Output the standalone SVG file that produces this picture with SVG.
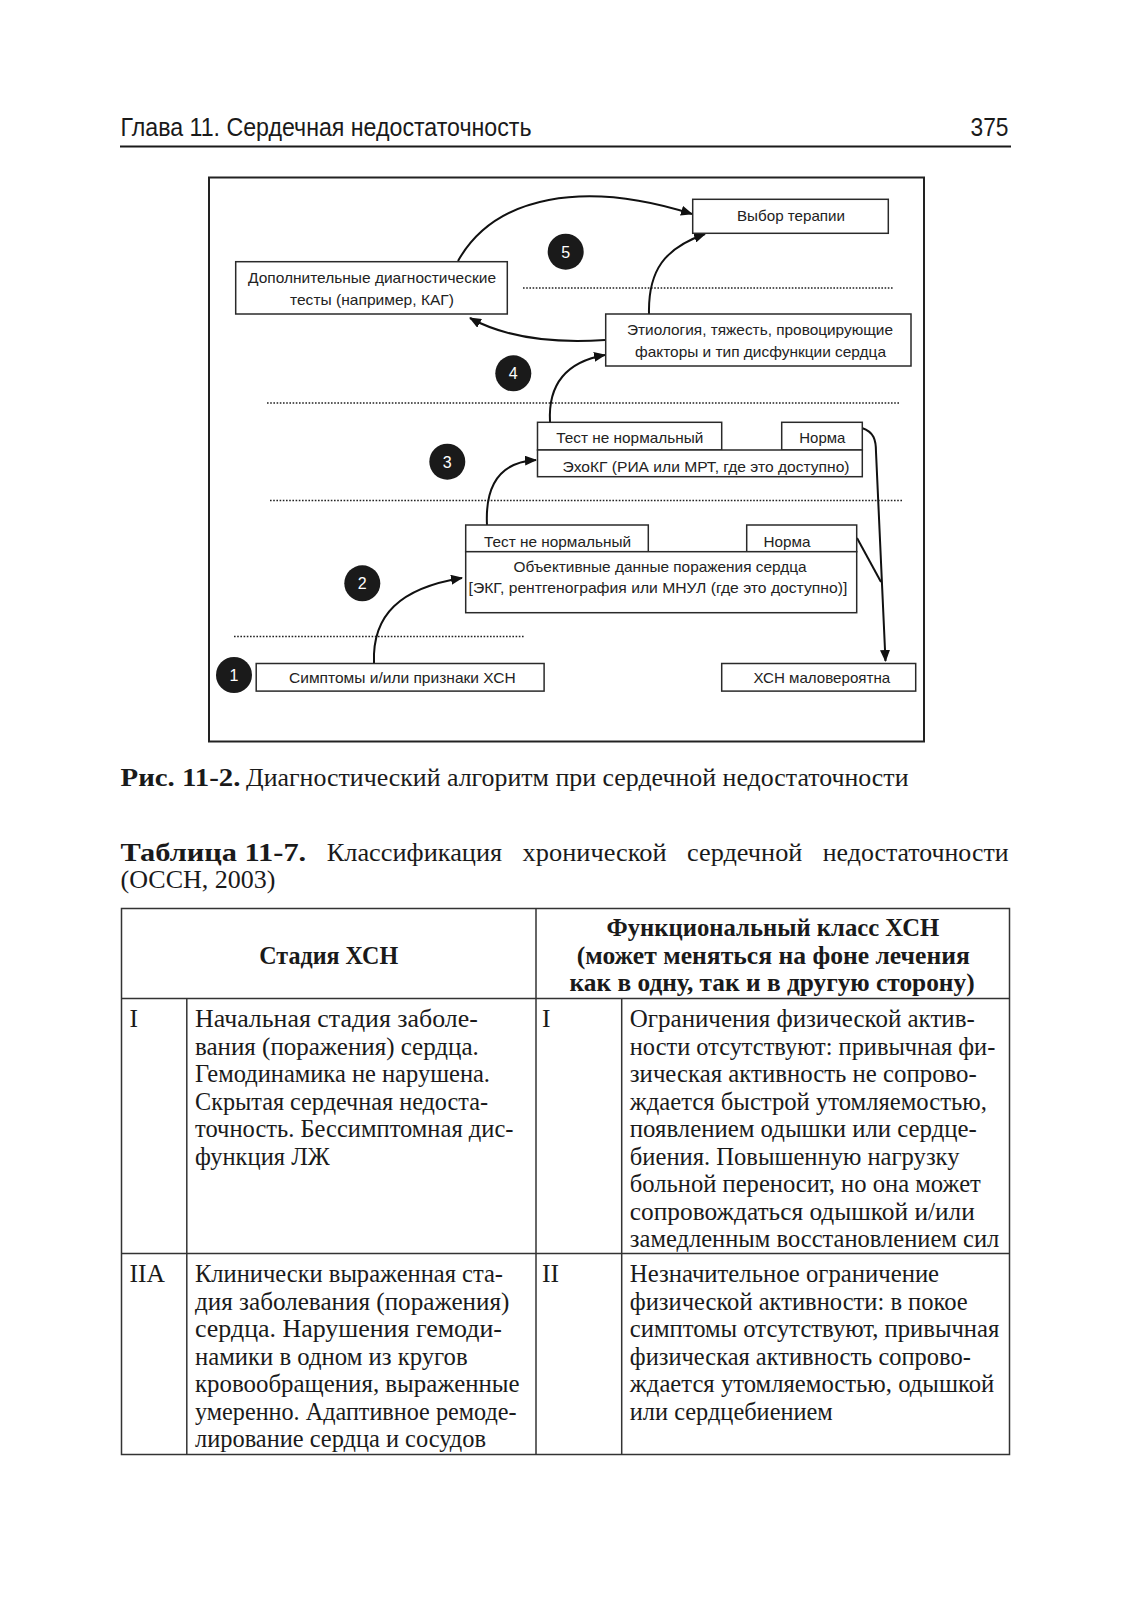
<svg xmlns="http://www.w3.org/2000/svg" width="1129" height="1600" viewBox="0 0 1129 1600">
<defs>
<style>
.hd{font-family:"Liberation Sans",Arial,sans-serif;font-size:26px;fill:#1a1a1a}
.box{fill:#fff;stroke:#2a2a2a;stroke-width:1.5}
.t{font-family:"Liberation Sans",Arial,sans-serif;font-size:14.5px;fill:#222}
.dot{stroke:#222;stroke-width:1.6;stroke-dasharray:1.6 1.6;fill:none}
.con{fill:none;stroke:#111;stroke-width:2}
.num{fill:#1a1a1a}
.nt{font-family:"Liberation Sans",Arial,sans-serif;font-size:16px;fill:#fff;text-anchor:middle}
.s{font-family:"Liberation Serif","Times New Roman",serif;font-size:25.5px;fill:#1a1a1a}
.b{font-weight:bold}
.tl{stroke:#333;stroke-width:1.5;fill:none}
</style>
<marker id="ah" markerUnits="userSpaceOnUse" markerWidth="12" markerHeight="10" refX="11" refY="5" orient="auto">
<path d="M0,0 L12,5 L0,10 z" fill="#111"/>
</marker>
</defs>
<rect x="0" y="0" width="1129" height="1600" fill="#fff"/>

<g id="page-header">
<text class="hd" x="120.5" y="136" textLength="411" lengthAdjust="spacingAndGlyphs">Глава 11. Сердечная недостаточность</text>
<text class="hd" x="1008.5" y="136" text-anchor="end" textLength="38" lengthAdjust="spacingAndGlyphs">375</text>
<line x1="120" y1="146.5" x2="1011" y2="146.5" stroke="#1a1a1a" stroke-width="2"/>
</g>

<g id="frame">
<rect x="209" y="177.5" width="715" height="564" fill="none" stroke="#222" stroke-width="2"/>
</g>

<g id="separators">
<line class="dot" x1="523" y1="288" x2="893" y2="288"/>
<line class="dot" x1="267" y1="403" x2="899" y2="403"/>
<line class="dot" x1="270" y1="500.5" x2="903" y2="500.5"/>
<line class="dot" x1="234" y1="636.5" x2="525" y2="636.5"/>
</g>

<g id="connectors">
<path class="con" d="M374,663 C372,615 400,588 462,578" marker-end="url(#ah)"/>
<path class="con" d="M487,525 C485,485 500,462 536,460" marker-end="url(#ah)"/>
<path class="con" d="M550,422 C548,385 565,362 605,355" marker-end="url(#ah)"/>
<path class="con" d="M649,314 C648,270 665,248 705,234" marker-end="url(#ah)"/>
<path class="con" d="M605,340 C560,343 510,340 470,318" marker-end="url(#ah)"/>
<path class="con" d="M458,261 C495,195 585,180 692,214" marker-end="url(#ah)"/>
<path class="con" d="M862,428 C874,432 876,440 876,452 L885.5,661" marker-end="url(#ah)"/>
<path class="con" d="M857,538 L881,582"/>
</g>

<g id="node-therapy">
<rect class="box" x="692.7" y="199.3" width="195.6" height="34"/>
<text class="t" x="737" y="221" textLength="108" lengthAdjust="spacingAndGlyphs">Выбор терапии</text>
</g>

<g id="node-extra-tests">
<rect class="box" x="235.7" y="261.7" width="271.6" height="52.3"/>
<text class="t" x="248" y="282.7" textLength="248" lengthAdjust="spacingAndGlyphs">Дополнительные диагностические</text>
<text class="t" x="290" y="305" textLength="164" lengthAdjust="spacingAndGlyphs">тесты (например, КАГ)</text>
</g>

<g id="node-etiology">
<rect class="box" x="605.7" y="314" width="305.3" height="52"/>
<text class="t" x="627" y="335" textLength="266" lengthAdjust="spacingAndGlyphs">Этиология, тяжесть, провоцирующие</text>
<text class="t" x="635" y="356.7" textLength="251" lengthAdjust="spacingAndGlyphs">факторы и тип дисфункции сердца</text>
</g>

<g id="node-echo">
<rect class="box" x="537.5" y="422.3" width="184.2" height="27.7"/>
<rect class="box" x="781.7" y="422.3" width="80.6" height="27.7"/>
<rect class="box" x="537.5" y="450" width="324.8" height="26.7"/>
<text class="t" x="556.3" y="443.3" textLength="147" lengthAdjust="spacingAndGlyphs">Тест не нормальный</text>
<text class="t" x="799.3" y="443.3" textLength="46" lengthAdjust="spacingAndGlyphs">Норма</text>
<text class="t" x="562.5" y="471.7" textLength="287" lengthAdjust="spacingAndGlyphs">ЭхоКГ (РИА или МРТ, где это доступно)</text>
</g>

<g id="node-objective">
<rect class="box" x="465.7" y="525" width="182.6" height="26.7"/>
<rect class="box" x="746.7" y="525" width="110" height="26.7"/>
<rect class="box" x="465.7" y="551.7" width="391" height="61"/>
<text class="t" x="484" y="546.7" textLength="147" lengthAdjust="spacingAndGlyphs">Тест не нормальный</text>
<text class="t" x="763.6" y="546.7" textLength="47" lengthAdjust="spacingAndGlyphs">Норма</text>
<text class="t" x="513.5" y="571.7" textLength="293" lengthAdjust="spacingAndGlyphs">Объективные данные поражения сердца</text>
<text class="t" x="468.6" y="593.3" textLength="378.7" lengthAdjust="spacingAndGlyphs">[ЭКГ, рентгенография или МНУЛ (где это доступно)]</text>
</g>

<g id="node-symptoms">
<rect class="box" x="256.2" y="663.5" width="287.9" height="27.6"/>
<text class="t" x="289" y="683" textLength="226.6" lengthAdjust="spacingAndGlyphs">Симптомы и/или признаки ХСН</text>
</g>

<g id="node-unlikely">
<rect class="box" x="721.7" y="663.5" width="194" height="27.6"/>
<text class="t" x="753.4" y="683" textLength="136.8" lengthAdjust="spacingAndGlyphs">ХСН маловероятна</text>
</g>

<g id="step-1"><circle class="num" cx="234" cy="675" r="18"/><text class="nt" x="234" y="680.8">1</text></g>
<g id="step-2"><circle class="num" cx="362.3" cy="583.3" r="18"/><text class="nt" x="362.3" y="589.1">2</text></g>
<g id="step-3"><circle class="num" cx="447.3" cy="461.7" r="18"/><text class="nt" x="447.3" y="467.5">3</text></g>
<g id="step-4"><circle class="num" cx="513.3" cy="373.3" r="18"/><text class="nt" x="513.3" y="379.1">4</text></g>
<g id="step-5"><circle class="num" cx="565.7" cy="251.7" r="18"/><text class="nt" x="565.7" y="257.5">5</text></g>

<g id="caption">
<text class="s b" x="120.5" y="786" textLength="120" lengthAdjust="spacingAndGlyphs">Рис. 11-2.</text>
<text class="s" x="246" y="786" textLength="662.5" lengthAdjust="spacingAndGlyphs">Диагностический алгоритм при сердечной недостаточности</text>
</g>

<g id="table-title">
<text class="s b" x="120.5" y="860.5" textLength="185.7" lengthAdjust="spacingAndGlyphs">Таблица 11-7.</text>
<text class="s" x="326.7" y="860.5" textLength="175.5" lengthAdjust="spacingAndGlyphs">Классификация</text>
<text class="s" x="522.6" y="860.5" textLength="144" lengthAdjust="spacingAndGlyphs">хронической</text>
<text class="s" x="687" y="860.5" textLength="115.4" lengthAdjust="spacingAndGlyphs">сердечной</text>
<text class="s" x="822.8" y="860.5" textLength="185.7" lengthAdjust="spacingAndGlyphs">недостаточности</text>
<text class="s" x="120.5" y="888" textLength="155" lengthAdjust="spacingAndGlyphs">(ОССН, 2003)</text>
</g>

<g id="table">
<rect class="tl" x="121.5" y="908.5" width="888" height="546"/>
<line class="tl" x1="536" y1="908.5" x2="536" y2="1454.5"/>
<line class="tl" x1="121.5" y1="998.4" x2="1009.5" y2="998.4"/>
<line class="tl" x1="121.5" y1="1253.6" x2="1009.5" y2="1253.6"/>
<line class="tl" x1="186.8" y1="998.4" x2="186.8" y2="1454.5"/>
<line class="tl" x1="621.7" y1="998.4" x2="621.7" y2="1454.5"/>

<text class="s b" x="259.3" y="963.6" textLength="138.8" lengthAdjust="spacingAndGlyphs">Стадия ХСН</text>
<text class="s b" x="606.5" y="936" textLength="332.8" lengthAdjust="spacingAndGlyphs">Функциональный класс ХСН</text>
<text class="s b" x="576.8" y="963.6" textLength="393" lengthAdjust="spacingAndGlyphs">(может меняться на фоне лечения</text>
<text class="s b" x="569.6" y="991.2" textLength="405" lengthAdjust="spacingAndGlyphs">как в одну, так и в другую сторону)</text>

<text class="s" x="129.6" y="1027">I</text>
<text class="s" x="195" y="1027" textLength="282.8" lengthAdjust="spacingAndGlyphs">Начальная стадия заболе-</text>
<text class="s" x="195" y="1054.6" textLength="283.8" lengthAdjust="spacingAndGlyphs">вания (поражения) сердца.</text>
<text class="s" x="195" y="1082.1" textLength="295" lengthAdjust="spacingAndGlyphs">Гемодинамика не нарушена.</text>
<text class="s" x="195" y="1109.7" textLength="293" lengthAdjust="spacingAndGlyphs">Скрытая сердечная недоста-</text>
<text class="s" x="195" y="1137.2" textLength="318.5" lengthAdjust="spacingAndGlyphs">точность. Бессимптомная дис-</text>
<text class="s" x="195" y="1164.8" textLength="134.7" lengthAdjust="spacingAndGlyphs">функция ЛЖ</text>

<text class="s" x="542" y="1027">I</text>
<text class="s" x="629.8" y="1027" textLength="345" lengthAdjust="spacingAndGlyphs">Ограничения физической актив-</text>
<text class="s" x="629.8" y="1054.6" textLength="365.5" lengthAdjust="spacingAndGlyphs">ности отсутствуют: привычная фи-</text>
<text class="s" x="629.8" y="1082.1" textLength="347" lengthAdjust="spacingAndGlyphs">зическая активность не сопрово-</text>
<text class="s" x="629.8" y="1109.7" textLength="357" lengthAdjust="spacingAndGlyphs">ждается быстрой утомляемостью,</text>
<text class="s" x="629.8" y="1137.2" textLength="347" lengthAdjust="spacingAndGlyphs">появлением одышки или сердце-</text>
<text class="s" x="629.8" y="1164.8" textLength="329.7" lengthAdjust="spacingAndGlyphs">биения. Повышенную нагрузку</text>
<text class="s" x="629.8" y="1192.3" textLength="351" lengthAdjust="spacingAndGlyphs">больной переносит, но она может</text>
<text class="s" x="629.8" y="1219.9" textLength="345" lengthAdjust="spacingAndGlyphs">сопровождаться одышкой и/или</text>
<text class="s" x="629.8" y="1247.4" textLength="369.5" lengthAdjust="spacingAndGlyphs">замедленным восстановлением сил</text>

<text class="s" x="129.6" y="1282">IIA</text>
<text class="s" x="195" y="1282" textLength="308" lengthAdjust="spacingAndGlyphs">Клинически выраженная ста-</text>
<text class="s" x="195" y="1309.6" textLength="314.4" lengthAdjust="spacingAndGlyphs">дия заболевания (поражения)</text>
<text class="s" x="195" y="1337.1" textLength="307" lengthAdjust="spacingAndGlyphs">сердца. Нарушения гемоди-</text>
<text class="s" x="195" y="1364.7" textLength="272.6" lengthAdjust="spacingAndGlyphs">намики в одном из кругов</text>
<text class="s" x="195" y="1392.2" textLength="324.6" lengthAdjust="spacingAndGlyphs">кровообращения, выраженные</text>
<text class="s" x="195" y="1419.8" textLength="321.5" lengthAdjust="spacingAndGlyphs">умеренно. Адаптивное ремоде-</text>
<text class="s" x="195" y="1447.3" textLength="291" lengthAdjust="spacingAndGlyphs">лирование сердца и сосудов</text>

<text class="s" x="542" y="1282">II</text>
<text class="s" x="629.8" y="1282" textLength="309.3" lengthAdjust="spacingAndGlyphs">Незначительное ограничение</text>
<text class="s" x="629.8" y="1309.6" textLength="337.9" lengthAdjust="spacingAndGlyphs">физической активности: в покое</text>
<text class="s" x="629.8" y="1337.1" textLength="369.5" lengthAdjust="spacingAndGlyphs">симптомы отсутствуют, привычная</text>
<text class="s" x="629.8" y="1364.7" textLength="341" lengthAdjust="spacingAndGlyphs">физическая активность сопрово-</text>
<text class="s" x="629.8" y="1392.2" textLength="364.4" lengthAdjust="spacingAndGlyphs">ждается утомляемостью, одышкой</text>
<text class="s" x="629.8" y="1419.8" textLength="203" lengthAdjust="spacingAndGlyphs">или сердцебиением</text>
</g>
</svg>
